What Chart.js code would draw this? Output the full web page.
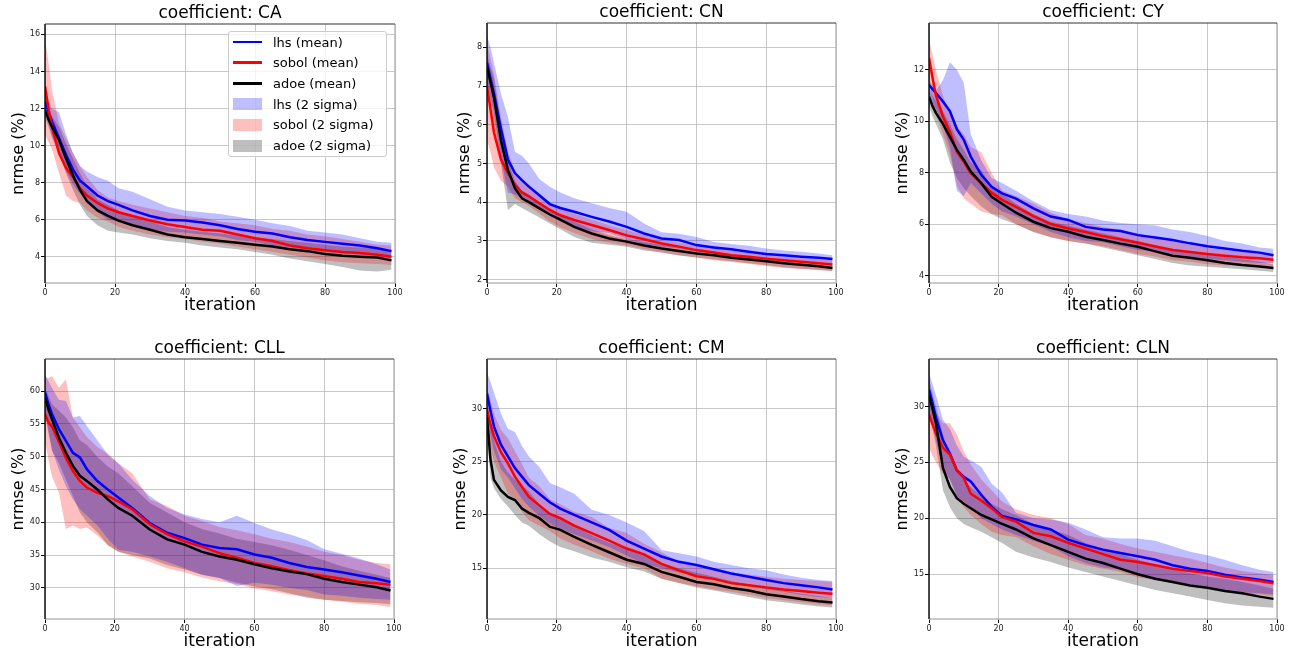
<!DOCTYPE html>
<html>
<head>
<meta charset="utf-8">
<title>nrmse vs iteration</title>
<script src="https://cdn.jsdelivr.net/npm/chart.js@4.4.0/dist/chart.umd.min.js"></script>
<style>
  body { margin: 0; background: #fff; width: 1291px; height: 654px; overflow: hidden; position: relative; font-family: 'DejaVu Sans', sans-serif; }
  canvas.panel { position: absolute; }
  #legend { position: absolute; left: 228px; top: 31px; width: 157px; height: 124px; border: 1px solid #cccccc; border-radius: 3px; background: rgba(255,255,255,0.8); z-index: 2; }
  .legend-row { position: absolute; left: 0; height: 20px; display: flex; align-items: center; font-size: 13px; color: #000; white-space: nowrap; }
  .swatch { width: 29px; margin-left: 4px; margin-right: 11px; }
</style>
</head>
<body>
<div id="legend"></div>
<script>
var iterations = [0, 1, 2, 4, 6, 8, 10, 12, 15, 18, 21, 25, 30, 35, 40, 45, 50, 55, 60, 65, 70, 75, 80, 85, 90, 95, 99];

// coefficient: CA
var caLhsMean    = [12.4, 11.8, 11.3, 10.4, 9.5, 8.7, 8.1, 7.8, 7.3, 7.0, 6.8, 6.5, 6.2, 6.0, 5.95, 5.85, 5.7, 5.5, 5.35, 5.25, 5.05, 4.9, 4.8, 4.7, 4.6, 4.45, 4.3];
var caSobolMean  = [13.2, 12.0, 11.0, 9.6, 8.8, 8.3, 7.7, 7.3, 6.9, 6.6, 6.4, 6.2, 5.95, 5.75, 5.6, 5.45, 5.4, 5.2, 5.0, 4.85, 4.6, 4.45, 4.35, 4.25, 4.2, 4.1, 4.0];
var caAdoeMean   = [11.9, 11.4, 11.0, 10.3, 9.3, 8.4, 7.6, 7.0, 6.5, 6.2, 5.95, 5.7, 5.45, 5.2, 5.05, 4.95, 4.85, 4.75, 4.65, 4.55, 4.4, 4.3, 4.15, 4.05, 4.0, 3.95, 3.8];
var caLhsUpper   = [12.8, 12.4, 12.0, 11.8, 10.6, 9.6, 8.9, 8.6, 8.3, 8.1, 7.7, 7.5, 7.1, 6.7, 6.5, 6.4, 6.3, 6.15, 6.0, 5.8, 5.65, 5.4, 5.3, 5.2, 5.0, 4.8, 4.75];
var caLhsLower   = [11.9, 11.2, 10.5, 9.6, 8.6, 7.9, 7.4, 7.0, 6.4, 6.0, 5.9, 5.7, 5.5, 5.35, 5.3, 5.2, 5.1, 4.9, 4.8, 4.6, 4.5, 4.35, 4.25, 4.15, 4.1, 3.95, 3.9];
var caSobolUpper = [15.8, 14.5, 13.0, 11.2, 10.4, 9.6, 8.9, 8.3, 7.6, 7.2, 7.0, 6.8, 6.6, 6.4, 6.2, 6.1, 5.9, 5.8, 5.7, 5.5, 5.4, 5.2, 5.1, 4.95, 4.8, 4.65, 4.6];
var caSobolLower = [10.6, 10.2, 9.8, 8.5, 7.3, 7.0, 6.9, 6.5, 6.1, 5.9, 5.6, 5.4, 5.2, 5.05, 4.95, 4.8, 4.7, 4.55, 4.4, 4.25, 4.1, 3.95, 3.8, 3.7, 3.65, 3.6, 3.55];
var caAdoeUpper  = [12.2, 11.9, 11.6, 11.0, 10.1, 9.3, 8.5, 7.8, 7.1, 6.8, 6.5, 6.2, 5.9, 5.6, 5.45, 5.35, 5.25, 5.15, 5.05, 4.95, 4.85, 4.75, 4.65, 4.55, 4.5, 4.45, 4.3];
var caAdoeLower  = [11.5, 11.0, 10.4, 9.6, 8.5, 7.6, 6.8, 6.2, 5.7, 5.4, 5.3, 5.2, 5.0, 4.85, 4.75, 4.6, 4.5, 4.4, 4.25, 4.1, 3.9, 3.75, 3.6, 3.45, 3.25, 3.2, 3.3];

// coefficient: CN
var cnLhsMean    = [7.6, 7.2, 6.8, 5.9, 5.1, 4.75, 4.57, 4.4, 4.18, 3.95, 3.85, 3.75, 3.62, 3.5, 3.36, 3.19, 3.06, 3.02, 2.89, 2.83, 2.78, 2.72, 2.66, 2.63, 2.59, 2.56, 2.53];
var cnSobolMean  = [7.0, 6.4, 5.8, 5.1, 4.75, 4.45, 4.25, 4.15, 3.97, 3.8, 3.66, 3.54, 3.41, 3.28, 3.14, 3.04, 2.93, 2.85, 2.76, 2.7, 2.63, 2.59, 2.54, 2.5, 2.46, 2.42, 2.39];
var cnAdoeMean   = [7.5, 7.1, 6.7, 5.6, 4.83, 4.36, 4.1, 4.0, 3.84, 3.68, 3.55, 3.36, 3.19, 3.06, 2.98, 2.88, 2.8, 2.74, 2.67, 2.63, 2.56, 2.52, 2.47, 2.42, 2.38, 2.34, 2.3];
var cnLhsUpper   = [8.3, 8.0, 7.6, 6.8, 6.2, 5.3, 5.2, 5.0, 4.6, 4.4, 4.25, 4.1, 3.97, 3.85, 3.75, 3.45, 3.22, 3.18, 3.1, 2.97, 2.92, 2.87, 2.8, 2.75, 2.72, 2.67, 2.63];
var cnLhsLower   = [7.1, 6.7, 6.3, 5.1, 4.25, 4.2, 4.1, 4.0, 3.85, 3.65, 3.5, 3.35, 3.25, 3.2, 3.05, 2.9, 2.85, 2.8, 2.72, 2.68, 2.62, 2.55, 2.5, 2.47, 2.44, 2.42, 2.4];
var cnSobolUpper = [8.1, 7.7, 7.3, 6.2, 5.3, 4.8, 4.6, 4.45, 4.2, 4.0, 3.85, 3.7, 3.55, 3.4, 3.28, 3.15, 3.02, 2.95, 2.88, 2.82, 2.75, 2.7, 2.65, 2.6, 2.55, 2.52, 2.5];
var cnSobolLower = [5.6, 5.3, 4.9, 4.55, 4.4, 4.1, 4.0, 3.9, 3.7, 3.5, 3.35, 3.2, 3.05, 2.95, 2.88, 2.78, 2.7, 2.63, 2.57, 2.5, 2.45, 2.4, 2.35, 2.3, 2.27, 2.24, 2.22];
var cnAdoeUpper  = [7.8, 7.5, 7.2, 6.0, 5.1, 4.55, 4.3, 4.2, 4.0, 3.8, 3.65, 3.5, 3.3, 3.15, 3.05, 2.97, 2.9, 2.83, 2.76, 2.7, 2.64, 2.58, 2.53, 2.48, 2.44, 2.4, 2.37];
var cnAdoeLower  = [7.1, 6.6, 6.0, 5.0, 3.8, 3.95, 3.85, 3.75, 3.6, 3.45, 3.3, 3.1, 2.95, 2.9, 2.85, 2.75, 2.7, 2.62, 2.57, 2.52, 2.47, 2.42, 2.37, 2.32, 2.28, 2.25, 2.22];

// coefficient: CY
var cyLhsMean    = [11.42, 11.25, 11.1, 10.77, 10.4, 9.7, 9.28, 8.63, 7.92, 7.46, 7.2, 7.0, 6.62, 6.3, 6.17, 5.9, 5.8, 5.74, 5.58, 5.49, 5.39, 5.26, 5.15, 5.06, 4.97, 4.9, 4.8];
var cySobolMean  = [12.46, 11.7, 11.0, 10.19, 9.6, 8.82, 8.43, 7.98, 7.59, 7.23, 6.95, 6.68, 6.32, 6.01, 5.84, 5.7, 5.54, 5.42, 5.28, 5.14, 5.0, 4.92, 4.85, 4.78, 4.72, 4.68, 4.62];
var cyAdoeMean   = [10.96, 10.6, 10.32, 9.9, 9.4, 8.89, 8.5, 8.05, 7.6, 7.07, 6.8, 6.45, 6.1, 5.85, 5.71, 5.52, 5.39, 5.25, 5.13, 4.95, 4.78, 4.7, 4.6, 4.5, 4.42, 4.36, 4.3];
var cyLhsUpper   = [11.6, 11.4, 11.2, 11.6, 12.3, 12.0, 11.5, 9.5, 8.5, 7.8, 7.6, 7.3, 6.9, 6.55, 6.4, 6.3, 6.15, 6.05, 6.0, 5.95, 5.8, 5.7, 5.55, 5.35, 5.25, 5.1, 5.05];
var cyLhsLower   = [10.8, 10.7, 10.5, 9.8, 9.0, 7.3, 7.1, 7.6, 7.2, 6.8, 6.5, 6.3, 6.0, 5.7, 5.5, 5.35, 5.3, 5.15, 5.0, 4.95, 4.85, 4.75, 4.65, 4.6, 4.55, 4.5, 4.5];
var cySobolUpper = [13.2, 12.6, 12.0, 11.0, 10.3, 9.8, 9.5, 9.0, 8.8, 8.0, 7.3, 7.1, 6.8, 6.45, 6.2, 6.05, 5.9, 5.8, 5.65, 5.5, 5.35, 5.2, 5.1, 5.0, 4.95, 4.9, 4.85];
var cySobolLower = [11.5, 10.9, 10.3, 9.5, 8.7, 7.5, 7.0, 6.8, 6.5, 6.4, 6.35, 6.0, 5.7, 5.5, 5.35, 5.25, 5.15, 5.0, 4.85, 4.75, 4.6, 4.55, 4.45, 4.4, 4.38, 4.35, 4.35];
var cyAdoeUpper  = [11.3, 11.0, 10.8, 10.4, 9.9, 9.3, 8.9, 8.4, 8.1, 7.5, 7.2, 6.8, 6.4, 6.1, 5.95, 5.8, 5.65, 5.5, 5.35, 5.2, 5.05, 4.95, 4.85, 4.75, 4.65, 4.55, 4.45];
var cyAdoeLower  = [10.6, 10.2, 9.9, 9.3, 8.4, 7.8, 7.4, 7.1, 6.7, 6.4, 6.2, 6.0, 5.7, 5.5, 5.35, 5.25, 5.1, 4.95, 4.8, 4.65, 4.5, 4.4, 4.35, 4.3, 4.25, 4.2, 4.15];

// coefficient: CLL
var cllLhsMean    = [59.8, 58.0, 56.5, 54.2, 52.4, 50.6, 49.9, 48.1, 46.3, 45.0, 43.8, 42.2, 39.9, 38.4, 37.6, 36.6, 36.1, 35.9, 35.1, 34.6, 33.8, 33.2, 32.8, 32.4, 31.9, 31.4, 30.9];
var cllSobolMean  = [56.5, 55.2, 54.6, 52.3, 49.8, 47.8, 46.3, 45.3, 44.5, 44.0, 43.2, 42.0, 39.7, 38.2, 37.1, 36.3, 35.3, 34.6, 33.8, 33.3, 32.7, 32.2, 31.8, 31.4, 30.9, 30.7, 30.5];
var cllAdoeMean   = [59.0, 57.2, 55.7, 52.9, 50.6, 48.6, 47.1, 46.3, 45.0, 43.5, 42.2, 41.0, 38.9, 37.4, 36.6, 35.5, 34.8, 34.3, 33.6, 33.0, 32.5, 32.1, 31.4, 30.9, 30.5, 30.1, 29.6];
var cllLhsUpper   = [62.5, 61.5, 60.5, 58.7, 58.5, 56.0, 56.2, 54.7, 52.5, 50.3, 49.0, 46.5, 44.0, 42.2, 41.2, 40.5, 40.0, 41.0, 39.9, 38.9, 38.2, 37.3, 35.9, 35.2, 34.5, 33.6, 32.8];
var cllLhsLower   = [57.0, 54.0, 51.0, 48.0, 45.5, 43.5, 42.0, 41.0, 39.5, 37.5, 35.8, 35.5, 34.8, 34.0, 33.0, 32.0, 31.5, 30.3, 30.8, 30.5, 30.0, 29.7, 29.0, 28.8, 28.5, 28.3, 28.2];
var cllSobolUpper = [62.1, 62.0, 62.3, 60.5, 61.8, 56.0, 54.5, 53.0, 51.5, 50.5, 49.0, 47.5, 43.5, 42.5, 41.0, 40.2, 39.3, 38.8, 38.2, 37.5, 37.0, 36.3, 35.5, 35.0, 34.3, 33.8, 33.6];
var cllSobolLower = [52.5, 49.5, 47.0, 44.5, 39.0, 39.5, 39.0, 39.2, 38.0, 36.5, 35.5, 34.8, 34.0, 33.0, 32.4, 31.6, 31.0, 30.6, 29.9, 29.5, 29.0, 28.7, 28.2, 27.9, 27.6, 27.4, 27.1];
var cllAdoeUpper  = [60.5, 59.3, 58.0, 57.0, 56.0, 54.5, 52.5, 51.8, 50.0, 48.5, 47.5, 45.5, 43.0, 41.5, 40.0, 39.0, 38.3, 37.5, 37.0, 36.5, 35.8, 35.0, 34.2, 33.3, 32.6, 32.0, 31.5];
var cllAdoeLower  = [56.5, 53.5, 51.0, 49.0, 46.5, 44.0, 41.5, 40.0, 38.5, 36.5, 35.5, 35.0, 34.5, 33.5, 32.8, 32.0, 31.5, 30.8, 30.2, 29.8, 29.2, 28.5, 28.2, 28.0, 27.8, 27.7, 27.5];

// coefficient: CM
var cmLhsMean    = [31.4, 29.8, 28.3, 26.6, 25.5, 24.4, 23.6, 22.8, 22.0, 21.2, 20.6, 20.0, 19.3, 18.6, 17.6, 16.85, 16.1, 15.6, 15.3, 14.9, 14.5, 14.2, 13.9, 13.6, 13.4, 13.2, 13.0];
var cmSobolMean  = [29.9, 28.5, 27.4, 25.9, 24.85, 23.6, 22.65, 21.7, 20.9, 20.1, 19.7, 19.0, 18.3, 17.6, 16.85, 16.3, 15.4, 14.8, 14.25, 14.0, 13.6, 13.4, 13.2, 13.0, 12.85, 12.7, 12.6];
var cmAdoeMean   = [29.2, 25.2, 23.3, 22.3, 21.7, 21.4, 20.6, 20.2, 19.7, 18.9, 18.6, 17.95, 17.2, 16.5, 15.8, 15.4, 14.65, 14.2, 13.7, 13.5, 13.15, 12.9, 12.55, 12.35, 12.1, 11.9, 11.77];
var cmLhsUpper   = [33.4, 32.5, 31.5, 29.5, 28.1, 27.8, 26.5, 25.5, 24.5, 23.0, 22.6, 22.0, 20.5, 20.0, 19.3, 18.5, 16.7, 16.4, 16.1, 15.6, 15.3, 15.0, 14.8, 14.4, 14.1, 13.9, 13.8];
var cmLhsLower   = [29.5, 27.5, 26.0, 24.3, 23.5, 22.5, 21.5, 20.8, 19.9, 19.2, 18.7, 18.2, 17.6, 17.0, 16.2, 15.4, 15.0, 14.6, 14.3, 14.0, 13.6, 13.3, 13.0, 12.8, 12.5, 12.3, 12.2];
var cmSobolUpper = [32.0, 30.8, 29.5, 28.0, 27.2, 26.0, 24.8, 23.5, 22.7, 21.5, 21.0, 20.3, 19.8, 18.8, 18.3, 17.3, 16.5, 15.6, 15.2, 14.9, 14.6, 14.4, 14.2, 14.0, 13.9, 13.8, 13.7];
var cmSobolLower = [28.0, 26.5, 25.0, 23.5, 22.0, 21.5, 20.3, 19.5, 19.0, 18.5, 17.8, 17.2, 16.6, 15.9, 15.4, 15.0, 14.0, 13.6, 13.3, 13.0, 12.8, 12.5, 12.2, 12.0, 11.8, 11.6, 11.5];
var cmAdoeUpper  = [30.5, 28.5, 27.0, 25.0, 24.0, 23.3, 22.8, 22.2, 21.0, 20.2, 19.8, 19.0, 18.1, 17.4, 16.8, 16.3, 15.5, 15.0, 14.6, 14.2, 13.8, 13.5, 13.2, 12.9, 12.6, 12.4, 12.2];
var cmAdoeLower  = [27.5, 23.5, 22.5, 21.5, 20.8, 20.0, 19.3, 19.0, 18.2, 17.5, 17.0, 16.6, 16.0, 15.6, 15.1, 14.7, 14.0, 13.6, 13.2, 12.9, 12.6, 12.3, 12.0, 11.8, 11.6, 11.4, 11.3];

// coefficient: CLN
var clnLhsMean    = [31.5, 30.3, 29.0, 27.0, 25.8, 24.3, 23.7, 23.3, 22.1, 21.05, 20.2, 19.9, 19.4, 19.0, 18.1, 17.6, 17.2, 16.9, 16.6, 16.3, 15.8, 15.5, 15.3, 14.95, 14.7, 14.5, 14.3];
var clnSobolMean  = [29.3, 28.4, 27.6, 26.3, 25.7, 24.3, 23.6, 22.2, 21.6, 20.9, 20.1, 19.7, 18.7, 18.4, 17.8, 17.3, 16.8, 16.3, 16.1, 15.8, 15.5, 15.3, 15.1, 14.8, 14.6, 14.4, 14.2];
var clnAdoeMean   = [31.0, 29.8, 28.5, 24.5, 22.8, 21.8, 21.3, 20.9, 20.3, 19.9, 19.5, 19.0, 18.2, 17.6, 17.0, 16.4, 16.0, 15.5, 15.0, 14.6, 14.3, 14.0, 13.8, 13.5, 13.3, 13.0, 12.8];
var clnLhsUpper   = [33.0, 32.0, 31.0, 28.8, 28.0, 26.5, 25.5, 25.2, 24.6, 23.1, 22.3, 20.5, 20.0, 19.9, 19.6, 19.0, 18.3, 18.2, 18.2, 18.0, 17.5, 17.0, 16.7, 16.3, 15.8, 15.4, 15.2];
var clnLhsLower   = [30.0, 28.5, 27.0, 24.5, 23.5, 22.0, 21.5, 21.0, 20.0, 19.5, 19.0, 18.5, 18.0, 17.5, 16.6, 16.0, 15.6, 15.4, 14.9, 14.6, 14.4, 14.1, 13.9, 13.6, 13.4, 13.3, 13.2];
var clnSobolUpper = [32.0, 30.8, 29.5, 28.5, 28.5, 27.5, 26.0, 24.8, 23.5, 22.5, 21.5, 20.8, 20.3, 20.0, 19.5, 18.5, 18.2, 17.7, 17.3, 17.0, 16.7, 16.4, 16.0, 15.6, 15.3, 15.1, 14.9];
var clnSobolLower = [26.3, 25.6, 25.0, 24.0, 23.5, 22.0, 21.0, 20.3, 19.5, 18.8, 18.5, 18.3, 17.5, 16.8, 16.3, 15.8, 15.5, 15.2, 14.7, 14.5, 14.2, 13.9, 13.7, 13.5, 13.3, 13.2, 13.0];
var clnAdoeUpper  = [32.5, 31.2, 30.0, 27.5, 25.5, 24.3, 23.5, 22.8, 22.0, 21.3, 20.8, 20.3, 19.5, 19.0, 18.5, 17.8, 17.3, 16.8, 16.3, 15.9, 15.5, 15.1, 14.8, 14.6, 14.3, 14.0, 13.7];
var clnAdoeLower  = [29.5, 28.0, 26.5, 22.5, 21.0, 20.0, 19.5, 19.2, 18.8, 18.3, 17.8, 17.0, 16.5, 16.1, 15.6, 15.2, 14.8, 14.4, 14.0, 13.6, 13.3, 13.0, 12.7, 12.4, 12.2, 12.1, 12.0];

// y axis limits and tick steps for every panel
var panelTitles = ['CA', 'CN', 'CY', 'CLL', 'CM', 'CLN'];
var yMins  = [2.58, 1.91, 3.72, 25.26, 10.23, 11.0];
var yMaxs  = [16.56, 8.63, 13.82, 64.9, 34.65, 34.24];
var ySteps = [2, 1, 2, 5, 5, 5];

var methods = [
  { name: 'lhs', color: '#0000ff', band: 'rgba(0, 0, 255, 0.25)' },
  { name: 'sobol', color: '#ff0000', band: 'rgba(255, 0, 0, 0.25)' },
  { name: 'adoe', color: '#000000', band: 'rgba(0, 0, 0, 0.25)' }
];

// series per panel, in the same order as methods: [mean, upper, lower]
var panelSeries = [
  [[caLhsMean, caLhsUpper, caLhsLower], [caSobolMean, caSobolUpper, caSobolLower], [caAdoeMean, caAdoeUpper, caAdoeLower]],
  [[cnLhsMean, cnLhsUpper, cnLhsLower], [cnSobolMean, cnSobolUpper, cnSobolLower], [cnAdoeMean, cnAdoeUpper, cnAdoeLower]],
  [[cyLhsMean, cyLhsUpper, cyLhsLower], [cySobolMean, cySobolUpper, cySobolLower], [cyAdoeMean, cyAdoeUpper, cyAdoeLower]],
  [[cllLhsMean, cllLhsUpper, cllLhsLower], [cllSobolMean, cllSobolUpper, cllSobolLower], [cllAdoeMean, cllAdoeUpper, cllAdoeLower]],
  [[cmLhsMean, cmLhsUpper, cmLhsLower], [cmSobolMean, cmSobolUpper, cmSobolLower], [cmAdoeMean, cmAdoeUpper, cmAdoeLower]],
  [[clnLhsMean, clnLhsUpper, clnLhsLower], [clnSobolMean, clnSobolUpper, clnSobolLower], [clnAdoeMean, clnAdoeUpper, clnAdoeLower]]
];

// page layout: plot area [left, top, right, bottom] and y label distance from the plot
var plotBoxes = [
  [45, 24, 395, 283], [487, 23, 836, 283], [929, 23, 1277, 283],
  [45, 359, 394, 619], [487, 359, 836, 619], [929, 359, 1277, 619]
];
var yLabelGaps = [26, 22, 26, 26, 26.5, 26];

var AXIS_W = 45;
var TITLE_H = 24;
var XAXIS_H = 36;
var PAD_RIGHT = 12;
var GRID_COLOR = 'rgba(176, 176, 176, 0.7)';

Chart.defaults.font.family = "'DejaVu Sans', sans-serif";

function toPoints(values) {
  return iterations.map(function (it, i) {
    return { x: it, y: values[i] };
  });
}

// draws the box round the plot area: dark left/top, grey right/bottom
var framePlugin = {
  id: 'frame',
  afterDraw: function (chart) {
    var a = chart.chartArea;
    var ctx = chart.ctx;
    var l = Math.round(a.left), t = Math.round(a.top), r = Math.round(a.right), b = Math.round(a.bottom);
    ctx.save();
    ctx.lineWidth = 1.5;
    ctx.strokeStyle = '#b8b8b8';
    ctx.beginPath();
    ctx.moveTo(r, t);
    ctx.lineTo(r, b);
    ctx.lineTo(l, b);
    ctx.stroke();
    ctx.lineWidth = 1.5;
    ctx.strokeStyle = '#111';
    ctx.beginPath();
    ctx.moveTo(l, b);
    ctx.lineTo(l, t);
    ctx.stroke();
    ctx.strokeStyle = '#333';
    ctx.lineWidth = 1.2;
    ctx.beginPath();
    ctx.moveTo(l, t);
    ctx.lineTo(r, t);
    ctx.stroke();
    ctx.restore();
  }
};

// Function to build the datasets of one panel
function buildDatasets(series) {
  var datasets = [];
  methods.forEach(function (m, k) {
    datasets.push({
      label: m.name + ' (2 sigma)',
      data: toPoints(series[k][1]),
      borderWidth: 0,
      pointRadius: 0,
      backgroundColor: m.band,
      fill: '+1',
      order: 5
    });
    datasets.push({
      label: '',
      data: toPoints(series[k][2]),
      borderWidth: 0,
      pointRadius: 0,
      fill: false,
      order: 5
    });
  });
  methods.forEach(function (m, k) {
    datasets.push({
      label: m.name + ' (mean)',
      data: toPoints(series[k][0]),
      borderColor: m.color,
      borderWidth: 2.5,
      pointRadius: 0,
      fill: false,
      order: 2 - k
    });
  });
  return datasets;
}

// Function to create one subplot
function createPanel(p) {
  var box = plotBoxes[p];
  var canvas = document.createElement('canvas');
  canvas.className = 'panel';
  canvas.width = box[2] - box[0] + AXIS_W + PAD_RIGHT;
  canvas.height = box[3] - box[1] + TITLE_H + XAXIS_H;
  canvas.style.left = (box[0] - AXIS_W) + 'px';
  canvas.style.top = (box[1] - TITLE_H) + 'px';
  document.body.appendChild(canvas);

  return new Chart(canvas.getContext('2d'), {
    type: 'line',
    data: { datasets: buildDatasets(panelSeries[p]) },
    plugins: [framePlugin],
    options: {
      responsive: false,
      animation: false,
      devicePixelRatio: 1,
      layout: { padding: { left: 0, top: 0, right: PAD_RIGHT, bottom: 0 } },
      elements: { line: { tension: 0 } },
      plugins: {
        legend: { display: false },
        tooltip: { enabled: false },
        title: {
          display: true,
          text: 'coefficient: ' + panelTitles[p],
          color: '#000',
          fullSize: false,
          font: { size: 17, weight: 'normal' },
          padding: { top: 3.6, bottom: 0 }
        }
      },
      scales: {
        x: {
          type: 'linear',
          min: 0,
          max: 100,
          ticks: { stepSize: 20, color: '#222', font: { size: 8 }, padding: 1, maxRotation: 0 },
          grid: { color: GRID_COLOR, lineWidth: 1, tickColor: '#000', tickLength: 4 },
          border: { display: false },
          title: { display: true, text: 'iteration', color: '#000', font: { size: 17 }, padding: { top: 0, bottom: 2.8 } },
          afterFit: function (scale) {
            scale.height = XAXIS_H;
            scale.paddingLeft = 0;
            scale.paddingRight = 0;
          }
        },
        y: {
          type: 'linear',
          min: yMins[p],
          max: yMaxs[p],
          ticks: { stepSize: ySteps[p], includeBounds: false, color: '#222', font: { size: 8 }, padding: 1 },
          grid: { color: GRID_COLOR, lineWidth: 1, tickColor: '#000', tickLength: 4 },
          border: { display: false },
          title: { display: true, text: 'nrmse (%)', color: '#000', font: { size: 16 }, padding: { top: AXIS_W - yLabelGaps[p] - 9.6, bottom: 0 } },
          afterFit: function (scale) {
            scale.width = AXIS_W;
            scale.paddingTop = 0;
            scale.paddingBottom = 0;
          }
        }
      }
    }
  });
}

// Function to fill the html legend from the first panel's datasets
function buildLegend(chart) {
  var legend = document.getElementById('legend');
  var ds = chart.data.datasets;
  var items = [];
  ds.forEach(function (d) {
    if (d.label && d.label.indexOf('(mean)') > 0) items.push({ text: d.label, line: d.borderColor });
  });
  ds.forEach(function (d) {
    if (d.label && d.label.indexOf('(2 sigma)') > 0) items.push({ text: d.label, patch: d.backgroundColor });
  });
  items.forEach(function (item, i) {
    var row = document.createElement('div');
    row.className = 'legend-row';
    row.style.top = (i * 20.7) + 'px';
    var sw = document.createElement('span');
    sw.className = 'swatch';
    if (item.line) {
      sw.style.height = '2.5px';
      sw.style.background = item.line;
    } else {
      sw.style.height = '12px';
      sw.style.background = item.patch;
    }
    var label = document.createElement('span');
    label.textContent = item.text;
    row.appendChild(sw);
    row.appendChild(label);
    legend.appendChild(row);
  });
}

var charts = [];
for (var p = 0; p < panelTitles.length; p++) {
  charts.push(createPanel(p));
}
buildLegend(charts[0]);
</script>
</body>
</html>
